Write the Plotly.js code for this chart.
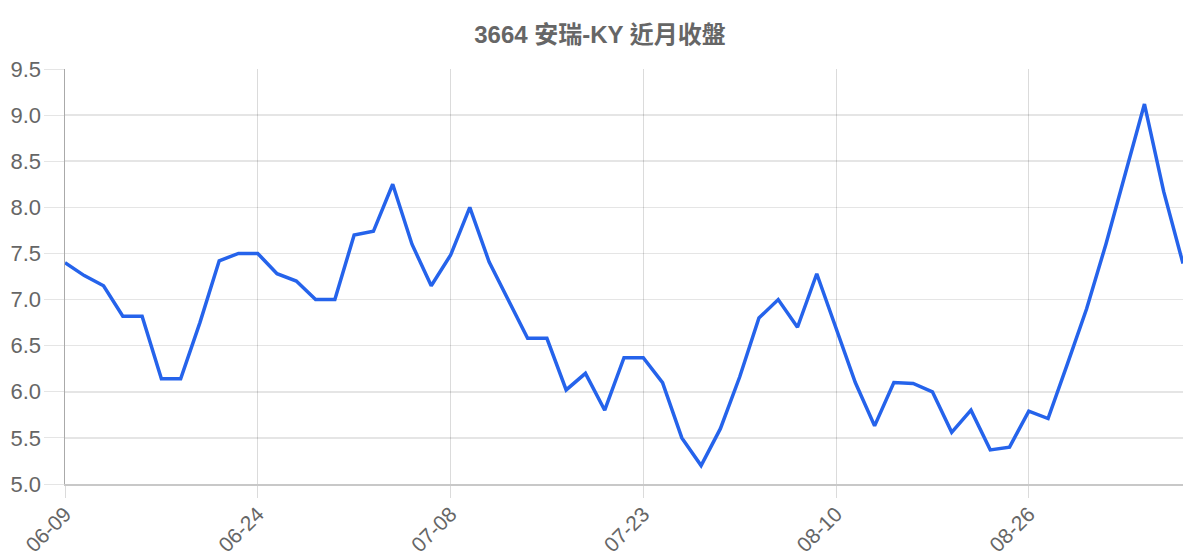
<!DOCTYPE html>
<html>
<head>
<meta charset="utf-8">
<script src="https://cdn.plot.ly/plotly-3.0.1.min.js"></script>
<style>
  html, body { margin: 0; padding: 0; background: #fff; }
  #chart { width: 1200px; height: 560px; }
</style>
</head>
<body>
<div id="chart"></div>
<script>
// trading days shown on the x axis (every 10th is labelled)
const dates = [
  "06-09", "06-10", "06-11", "06-12", "06-13", "06-16", "06-17", "06-18", "06-19", "06-20",
  "06-24", "06-25", "06-26", "06-27", "06-30", "07-01", "07-02", "07-03", "07-04", "07-07",
  "07-08", "07-09", "07-10", "07-11", "07-14", "07-15", "07-16", "07-17", "07-18", "07-22",
  "07-23", "07-24", "07-25", "07-28", "07-29", "07-30", "07-31", "08-01", "08-04", "08-06",
  "08-10", "08-11", "08-12", "08-13", "08-14", "08-15", "08-18", "08-19", "08-20", "08-21",
  "08-26", "08-27", "08-28", "08-29", "09-01", "09-02", "09-03", "09-04", "09-05"
];

// closing prices
const closes = [
  7.40, 7.26, 7.15, 6.82, 6.82, 6.14, 6.14, 6.75, 7.42, 7.50,
  7.50, 7.28, 7.20, 7.00, 7.00, 7.70, 7.74, 8.25, 7.60, 7.15,
  7.48, 8.00, 7.41, 7.00, 6.58, 6.58, 6.02, 6.20, 5.80, 6.37,
  6.37, 6.10, 5.50, 5.20, 5.60, 6.16, 6.80, 7.00, 6.70, 7.28,
  6.68, 6.10, 5.63, 6.10, 6.09, 6.00, 5.56, 5.80, 5.37, 5.40,
  5.79, 5.71, 6.30, 6.90, 7.60, 8.35, 9.12, 8.17, 7.39
];

const yTicks = [5.0, 5.5, 6.0, 6.5, 7.0, 7.5, 8.0, 8.5, 9.0, 9.5];

const fontFamily = '"Liberation Sans", Arial, "Noto Sans CJK TC", sans-serif';

const traces = [
  {
    x: dates,
    y: closes,
    type: "scatter",
    mode: "lines",
    line: { color: "#2563eb", width: 3.5 },
    hoverinfo: "x+y",
    showlegend: false
  }
];

const layout = {
  width: 1200,
  height: 560,
  margin: { l: 65, r: 17, t: 69, b: 76, pad: 0 },
  paper_bgcolor: "#fff",
  plot_bgcolor: "#fff",
  font: { family: fontFamily, color: "#666" },
  title: {
    text: "<b>3664 安瑞-KY 近月收盤</b>",
    font: { family: fontFamily, size: 24, color: "#666" },
    x: 0.5,
    xref: "container",
    xanchor: "center",
    y: 1 - 35 / 560,
    yref: "container",
    yanchor: "middle"
  },
  xaxis: {
    type: "category",
    range: [0, dates.length - 1],
    tickmode: "array",
    tickvals: dates.filter((d, i) => i % 10 === 0),
    ticktext: dates.filter((d, i) => i % 10 === 0),
    tickangle: -45,
    tickfont: { size: 21, color: "#666" },
    ticks: "outside",
    ticklen: 12,
    ticklabelstandoff: -4,
    tickcolor: "rgba(0,0,0,0.14)",
    showgrid: true,
    gridcolor: "rgba(0,0,0,0.14)",
    gridwidth: 1,
    showline: true,
    linecolor: "#c8c8c8",
    linewidth: 1.5,
    zeroline: false,
    fixedrange: true
  },
  yaxis: {
    range: [5, 9.5],
    tickmode: "array",
    tickvals: yTicks,
    tickformat: ".1f",
    tickfont: { size: 22, color: "#666" },
    ticks: "outside",
    ticklen: 20,
    ticklabelstandoff: -2,
    tickcolor: "rgba(0,0,0,0.1)",
    showgrid: true,
    gridcolor: "rgba(0,0,0,0.1)",
    gridwidth: 1.5,
    showline: true,
    linecolor: "#aaa",
    linewidth: 1.5,
    zeroline: false,
    fixedrange: true
  }
};

Plotly.newPlot("chart", traces, layout, { displayModeBar: false, staticPlot: true });
</script>
</body>
</html>
